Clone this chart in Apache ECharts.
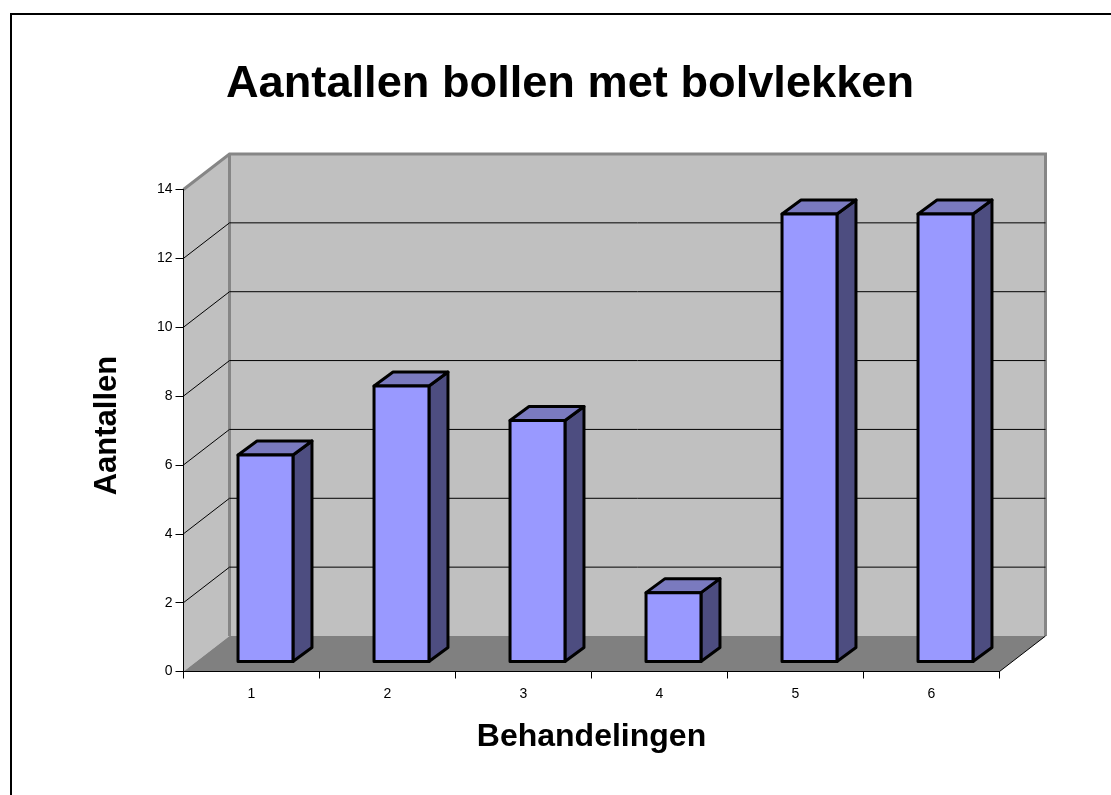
<!DOCTYPE html>
<html>
<head>
<meta charset="utf-8">
<title>Aantallen bollen met bolvlekken</title>
<style>
  html, body { margin: 0; padding: 0; background: #fff; }
  #chart { width: 1111px; height: 795px; }
</style>
</head>
<body>
<div id="chart"></div>
<script src="https://cdn.jsdelivr.net/npm/echarts@6/dist/echarts.min.js"></script>
<script>
  const categories = ['1', '2', '3', '4', '5', '6']
  const counts = [6, 8, 7, 2, 13, 13]
  const gridTicks = [2, 4, 6, 8, 10, 12]

  // depth of the fake 3d box and of the bars, in pixels
  const wallDx = 46
  const wallDy = -35.5
  const barDx = 19
  const barDy = -14
  const font = '"Liberation Sans", Arial, sans-serif'

  function renderWalls (params, api) {
    const g = params.coordSys
    const l = g.x, r = g.x + g.width, t = g.y, b = g.y + g.height
    const edge = { stroke: '#868686', lineWidth: 3, fill: null }
    return {
      type: 'group',
      children: [
        { type: 'polygon', shape: { points: [[l, b], [l + wallDx, b + wallDy], [l + wallDx, t + wallDy], [l, t]] }, style: { fill: '#c0c0c0' } },
        { type: 'rect', shape: { x: l + wallDx, y: t + wallDy, width: g.width, height: g.height }, style: { fill: '#c0c0c0' } },
        { type: 'polygon', shape: { points: [[l, b], [r, b], [r + wallDx, b + wallDy], [l + wallDx, b + wallDy]] }, style: { fill: '#808080' } },
        { type: 'polyline', shape: { points: [[l, t], [l + wallDx, t + wallDy], [r + wallDx, t + wallDy], [r + wallDx, b + wallDy]] }, style: edge },
        { type: 'line', shape: { x1: l + wallDx, y1: t + wallDy, x2: l + wallDx, y2: b + wallDy }, style: edge },
        { type: 'line', shape: { x1: r, y1: b, x2: r + wallDx, y2: b + wallDy }, style: { stroke: '#000', lineWidth: 1 } }
      ]
    }
  }

  function renderGridLine (params, api) {
    const g = params.coordSys
    const y = api.coord([0, api.value(1)])[1]
    const l = g.x
    return {
      type: 'polyline',
      shape: { points: [[l, y], [l + wallDx, y + wallDy], [l + g.width + wallDx, y + wallDy]] },
      style: { stroke: '#000', lineWidth: 1, fill: null }
    }
  }

  function renderBar (params, api) {
    const top = api.coord([api.value(0), api.value(1)])
    const base = api.coord([api.value(0), 0])
    const w = api.size([1, 0])[0] * 0.404
    // bars stand a bit behind the front edge of the floor
    const x1 = top[0] + 14 - w / 2
    const x2 = x1 + w
    const y1 = top[1] - 10
    const y2 = base[1] - 10
    const line = { stroke: '#000', lineWidth: 3, lineJoin: 'round' }
    return {
      type: 'group',
      children: [
        { type: 'polygon', shape: { points: [[x2, y1], [x2 + barDx, y1 + barDy], [x2 + barDx, y2 + barDy], [x2, y2]] }, style: Object.assign({ fill: '#4d4d80' }, line) },
        { type: 'polygon', shape: { points: [[x1, y1], [x1 + barDx, y1 + barDy], [x2 + barDx, y1 + barDy], [x2, y1]] }, style: Object.assign({ fill: '#7a7abf' }, line) },
        { type: 'rect', shape: { x: x1, y: y1, width: w, height: y2 - y1 }, style: Object.assign({ fill: '#9999ff' }, line) }
      ]
    }
  }

  const chart = echarts.init(document.getElementById('chart'))
  chart.setOption({
    backgroundColor: '#fff',
    animation: false,
    title: {
      text: 'Aantallen bollen met bolvlekken',
      left: 565,
      top: 57,
      textAlign: 'center',
      textStyle: { fontFamily: font, fontSize: 45.2, fontWeight: 'bold', color: '#000' }
    },
    grid: { left: 183.5, top: 189.5, width: 816, height: 482, containLabel: false },
    xAxis: {
      type: 'category',
      data: categories,
      z: 5,
      name: 'Behandelingen',
      nameLocation: 'middle',
      nameGap: 50,
      nameTextStyle: { fontFamily: font, fontSize: 32, fontWeight: 'bold', color: '#000' },
      axisLine: { lineStyle: { color: '#000', width: 1 } },
      axisTick: { show: true, length: 7, lineStyle: { color: '#000' } },
      axisLabel: { fontFamily: font, fontSize: 14, color: '#000', margin: 16 }
    },
    yAxis: {
      type: 'value',
      min: 0,
      max: 14,
      interval: 2,
      z: 5,
      name: 'Aantallen',
      nameLocation: 'middle',
      nameGap: 61,
      nameTextStyle: { fontFamily: font, fontSize: 31, fontWeight: 'bold', color: '#000', padding: [0, 0, 0, 10] },
      splitLine: { show: false },
      axisLine: { show: true, lineStyle: { color: '#000', width: 1 } },
      axisTick: { show: true, length: 8, lineStyle: { color: '#000' } },
      axisLabel: { fontFamily: font, fontSize: 14, color: '#000', margin: 11 }
    },
    series: [
      { type: 'custom', z: 1, renderItem: renderWalls, data: [[0, 0]], silent: true },
      { type: 'custom', z: 2, renderItem: renderGridLine, data: gridTicks.map(v => [0, v]), silent: true },
      { type: 'custom', z: 3, renderItem: renderBar, data: counts.map((v, i) => [i, v]) }
    ],
    graphic: [
      { type: 'line', shape: { x1: 11, y1: 14, x2: 1111, y2: 14 }, style: { stroke: '#000', lineWidth: 2 } },
      { type: 'line', shape: { x1: 11, y1: 13, x2: 11, y2: 795 }, style: { stroke: '#000', lineWidth: 2 } }
    ]
  })
</script>
</body>
</html>
